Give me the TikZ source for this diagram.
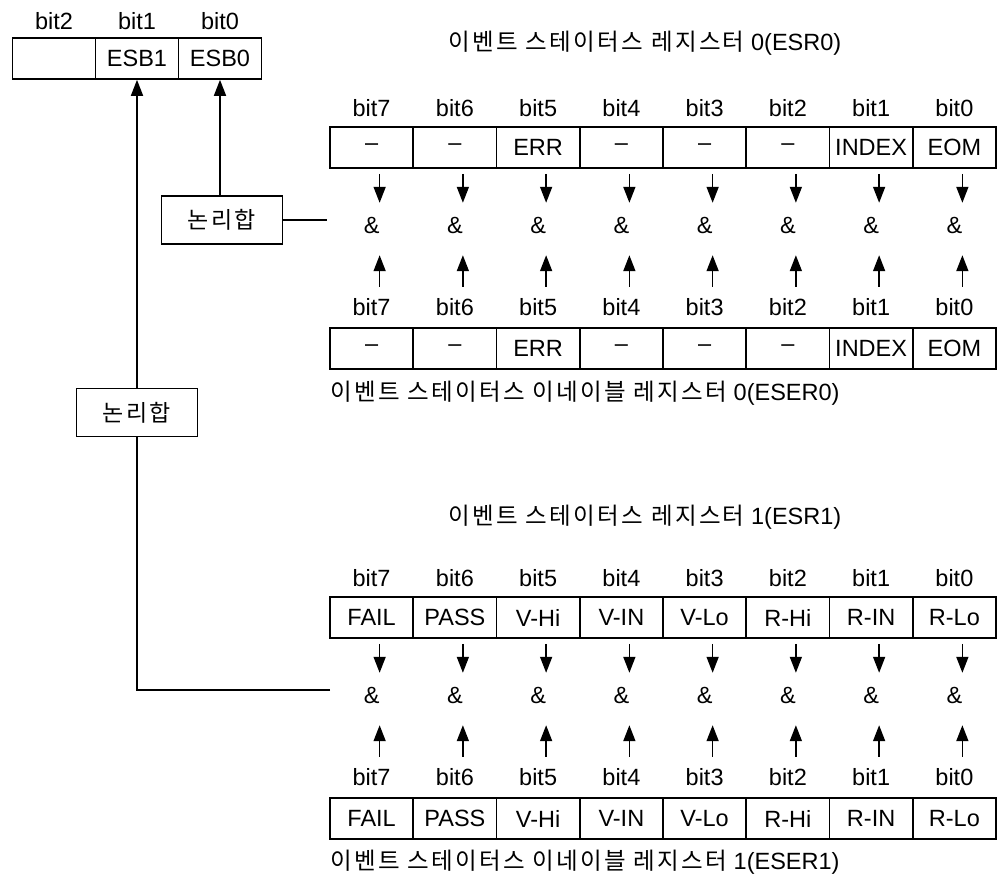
\documentclass[tikz,border=0pt]{standalone}
\usepackage{fontspec}
\setmainfont{Liberation Sans}
\newfontfamily\kor[LetterSpace=10]{Noto Sans CJK KR}
\usetikzlibrary{arrows.meta}

\tikzset{
  cell/.style={draw, line width=1.6pt, minimum width=83.25pt, minimum height=41pt, inner sep=0pt, font=\fontsize{23.5}{26}\selectfont},
  lbl/.style={inner sep=0pt, minimum height=30pt, font=\fontsize{23.5}{26}\selectfont},
  andop/.style={inner sep=0pt, minimum height=50pt, font=\fontsize{23.5}{26}\selectfont},
  orbox/.style={draw, fill=white, line width=1.6pt, minimum width=121pt, minimum height=48pt, inner sep=0pt, font=\kor\fontsize{23}{26}\selectfont},
  caption/.style={inner sep=0pt, font=\fontsize{23.5}{26}\selectfont},
  arr/.style={line width=1.6pt, -{Triangle[length=16pt,width=12pt]}},
  wire/.style={line width=1.6pt},
}

\begin{document}
\begin{tikzpicture}[x=1pt, y=-1pt]
  \useasboundingbox (0,0) rectangle (1002,880);

  % Status byte (ESB)
  \node[cell] (esb2) at (54,58.5) {};
  \node[cell] (esb1) at (137,58.5) {ESB1};
  \node[cell] (esb0) at (220,58.5) {ESB0};
  \node[lbl] (lesb2) at (54,21) {bit2};
  \node[lbl] (lesb1) at (137,21) {bit1};
  \node[lbl] (lesb0) at (220,21) {bit0};

  % Captions
  \node[caption] (cesr0) at (645,43) {{\kor 이벤트 스테이터스 레지스터} 0(ESR0)};
  \node[caption, anchor=west] (ceser0) at (330,393) {{\kor 이벤트 스테이터스 이네이블 레지스터} 0(ESER0)};
  \node[caption] (cesr1) at (645,517) {{\kor 이벤트 스테이터스 레지스터} 1(ESR1)};
  \node[caption, anchor=west] (ceser1) at (330,862) {{\kor 이벤트 스테이터스 이네이블 레지스터} 1(ESER1)};

  % Register 0: ESR0 / ESER0
  \foreach \t [count=\k from 0] in {–,–,ERR,–,–,–,INDEX,EOM} {
    \pgfmathsetmacro\cx{330+(\k+0.5)*83.25}
    \pgfmathtruncatemacro\b{7-\k}
    \node[lbl] (la\b) at (\cx,108) {bit\b};
    \node[cell] (ra\b) at (\cx,147.5) {\t};
    \node[andop] (na\b) at (\cx,225) {\&};
    \node[lbl] (lb\b) at (\cx,307) {bit\b};
    \node[cell] (rb\b) at (\cx,348.5) {\t};
    \draw[arr] ([xshift=8pt,yshift=-5pt]ra\b.south) -- ([xshift=8pt,yshift=-3pt]na\b.north);
    \draw[arr] ([xshift=8pt,yshift=5pt]lb\b.north) -- ([xshift=8pt,yshift=-5pt]na\b.south);
  }

  % Register 1: ESR1 / ESER1
  \foreach \t [count=\k from 0] in {FAIL,PASS,V-Hi,V-IN,V-Lo,R-Hi,R-IN,R-Lo} {
    \pgfmathsetmacro\cx{330+(\k+0.5)*83.25}
    \pgfmathtruncatemacro\b{7-\k}
    \node[lbl] (lc\b) at (\cx,578) {bit\b};
    \node[cell] (rc\b) at (\cx,617.5) {\t};
    \node[andop] (nc\b) at (\cx,695) {\&};
    \node[lbl] (ld\b) at (\cx,777) {bit\b};
    \node[cell] (rd\b) at (\cx,818.5) {\t};
    \draw[arr] ([xshift=8pt,yshift=-5pt]rc\b.south) -- ([xshift=8pt,yshift=-3pt]nc\b.north);
    \draw[arr] ([xshift=8pt,yshift=5pt]ld\b.north) -- ([xshift=8pt,yshift=-5pt]nc\b.south);
  }

  % OR boxes
  \node[orbox] (or0) at (222,220) {논리합};
  \node[orbox] (or1) at (137,412.5) {논리합};
  \coordinate (j0) at (327,220);
  \coordinate (j1) at (330,690);
  \coordinate (c1) at (137,690);

  % Wires
  \draw[wire] (or0) -- (j0);
  \draw[arr] (or0.north -| esb0) -- (esb0.south);
  \draw[wire] (j1) -- (c1) -- (or1.south);
  \draw[arr] (or1.north) -- (esb1.south);
\end{tikzpicture}
\end{document}
